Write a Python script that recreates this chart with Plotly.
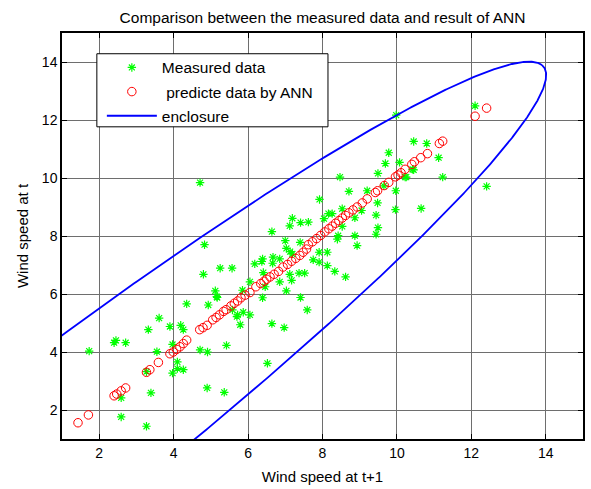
import numpy as np
import plotly.graph_objects as go

# Measured wind speed pairs: (speed at t+1, speed at t)
measured_x = [1.73, 2.40, 2.45, 2.71, 2.59, 2.59, 3.27, 3.27, 3.39, 3.32, 3.55, 3.61, 3.90, 3.97,
              3.97, 4.10, 4.10, 4.19, 4.26, 4.26, 4.35, 4.71, 4.91, 4.93, 4.90, 5.36, 5.42, 5.17,
              4.71, 4.83, 4.80, 5.12, 5.16, 5.25, 5.57, 5.72, 5.87, 5.85, 6.05, 5.79, 6.64, 6.97,
              7.59, 6.05, 6.18, 6.37, 6.39, 6.41, 6.46, 6.66, 6.67, 6.85, 6.85, 7.03, 7.12, 7.17,
              7.37, 7.52, 7.41, 7.03, 7.13, 7.00, 7.40, 6.64, 7.12, 7.19, 7.41, 7.62, 5.58, 5.70,
              6.39, 6.52, 8.33, 8.62, 7.75, 7.91, 8.13, 8.04, 7.92, 8.16, 8.26, 8.47, 8.53, 8.53,
              8.42, 8.40, 8.87, 8.87, 8.93, 8.71, 9.05, 9.20, 9.44, 9.44, 9.49, 9.48, 9.49, 9.69,
              9.78, 9.96, 9.97, 10.07, 10.22, 10.45, 10.45, 10.65, 10.80, 7.91, 8.13, 7.19, 12.10,
              9.98, 11.12, 11.23, 12.41, 9.65, 10.42, 10.25]
measured_y = [4.03, 4.32, 4.40, 4.32, 2.42, 1.76, 1.44, 3.32, 2.59, 4.77, 4.01, 5.17, 4.88, 4.26,
              3.27, 3.43, 3.66, 4.92, 4.77, 3.39, 5.66, 4.07, 4.00, 5.62, 2.76, 2.61, 4.23, 5.88,
              9.84, 7.70, 6.68, 6.11, 5.91, 6.89, 6.89, 5.28, 5.37, 6.13, 5.28, 4.94, 4.98, 4.84,
              5.45, 6.42, 7.04, 7.12, 7.21, 6.74, 6.25, 7.06, 7.27, 7.21, 6.42, 6.11, 6.68, 6.47,
              6.72, 6.72, 5.88, 7.57, 7.46, 7.84, 7.78, 8.15, 8.35, 8.61, 8.46, 8.48, 5.45, 5.22,
              5.87, 3.61, 6.78, 6.59, 7.18, 7.10, 6.98, 8.60, 9.26, 8.77, 8.77, 10.03, 8.94, 8.33,
              8.01, 7.89, 8.63, 8.01, 7.67, 9.54, 8.88, 9.56, 8.72, 8.06, 8.29, 9.14, 10.16, 10.50,
              10.87, 8.91, 9.56, 10.54, 10.03, 10.28, 11.26, 8.95, 11.19, 7.44, 7.44, 7.38, 12.49,
              12.17, 10.70, 10.03, 9.71, 9.73, 10.30, 10.03]

# ANN predictions for the same samples
predicted_x = [1.43, 1.71, 2.40, 2.47, 2.59, 2.71, 3.27, 3.36, 3.59, 3.90, 3.99, 4.08, 4.17, 4.26,
               4.35, 4.70, 4.79, 4.90, 5.05, 5.14, 5.23, 5.34, 5.41, 5.54, 5.63, 5.72, 5.81, 5.92,
               6.05, 6.21, 6.34, 6.43, 6.50, 6.59, 6.70, 6.82, 6.94, 7.06, 7.17, 7.28, 7.39, 7.48,
               7.57, 7.62, 7.73, 7.84, 7.95, 8.06, 8.17, 8.26, 8.35, 8.44, 8.53, 8.62, 8.71, 8.82,
               8.93, 9.07, 9.20, 9.42, 9.48, 9.66, 9.78, 9.96, 10.03, 10.11, 10.22, 10.40, 10.47,
               10.64, 10.82, 11.14, 11.23, 12.10, 12.41]
predicted_y = [1.56, 1.83, 2.49, 2.55, 2.66, 2.76, 3.30, 3.39, 3.64, 3.94, 4.00, 4.09, 4.18, 4.29,
               4.41, 4.77, 4.84, 4.92, 5.11, 5.19, 5.28, 5.40, 5.46, 5.59, 5.68, 5.76, 5.87, 5.96,
               6.05, 6.25, 6.36, 6.44, 6.51, 6.59, 6.68, 6.78, 6.93, 7.02, 7.13, 7.23, 7.33, 7.44,
               7.55, 7.70, 7.80, 7.91, 8.02, 8.14, 8.25, 8.34, 8.44, 8.53, 8.62, 8.71, 8.80, 8.90,
               9.00, 9.14, 9.28, 9.50, 9.56, 9.74, 9.85, 10.04, 10.10, 10.18, 10.30, 10.47, 10.56,
               10.70, 10.84, 11.19, 11.27, 12.13, 12.41]

# Enclosure: tilted ellipse around the data cloud
ellipse_center = (-0.60, -0.60)
ellipse_semi_major = 20.5
ellipse_semi_minor = 2.6
ellipse_tilt_deg = 45.0

tick_values = [2, 4, 6, 8, 10, 12, 14]

theta = np.deg2rad(ellipse_tilt_deg)
t = np.linspace(0, 2 * np.pi, 1441)
ex = (ellipse_center[0] + ellipse_semi_major * np.cos(t) * np.cos(theta)
      - ellipse_semi_minor * np.sin(t) * np.sin(theta))
ey = (ellipse_center[1] + ellipse_semi_major * np.cos(t) * np.sin(theta)
      + ellipse_semi_minor * np.sin(t) * np.cos(theta))

FONT = "Liberation Sans, Arial, Helvetica, sans-serif"

fig = go.Figure()
fig.add_trace(go.Scatter(
    x=measured_x, y=measured_y, mode="markers", name="Measured data",
    legendgroup="a",
    marker=dict(symbol="asterisk-open", size=7, color="#00ff00",
                line=dict(color="#00ff00", width=1.2)),
))
fig.add_trace(go.Scatter(
    x=predicted_x, y=predicted_y, mode="markers", name="\u00a0predicte data by ANN",
    legendgroup="b",
    marker=dict(symbol="circle-open", size=8.5, color="#ff0000",
                line=dict(color="#ff0000", width=1)),
))
fig.add_trace(go.Scatter(
    x=ex, y=ey, mode="lines", name="enclosure", legendgroup="c",
    line=dict(color="#0000ff", width=1.8),
))

axis_common = dict(
    range=[1, 15], tickvals=tick_values, ticks="inside", ticklen=5,
    tickcolor="black", tickwidth=1, showline=True, linecolor="black",
    linewidth=1.5, mirror="allticks", showgrid=True, gridcolor="#6e6e6e",
    gridwidth=1, zeroline=False, tickfont=dict(family=FONT, size=14, color="black"),
)

fig.update_xaxes(**axis_common,
                 title=dict(text="Wind speed at t+1",
                            font=dict(family=FONT, size=15, color="black"),
                            standoff=12))
fig.update_yaxes(**axis_common,
                 title=dict(text="Wind speed at t",
                            font=dict(family=FONT, size=15, color="black"),
                            standoff=10))

# Legend frame
fig.add_shape(type="rect", xref="paper", yref="paper",
              x0=0.0669, x1=0.5105, y0=0.7689, y1=0.9489,
              fillcolor="white", line=dict(color="black", width=1), layer="above")

fig.update_layout(
    width=591, height=489,
    margin=dict(l=62, r=6, t=33, b=45),
    paper_bgcolor="white", plot_bgcolor="white",
    title=dict(text="Comparison between the measured data and result of ANN",
               x=0.5, xref="paper", y=1 - 18 / 489, yref="container",
               xanchor="center", yanchor="middle",
               font=dict(family=FONT, size=15.5, color="black")),
    legend=dict(x=0.0765, y=0.956, xanchor="left", yanchor="top",
                bgcolor="rgba(0,0,0,0)", borderwidth=0, itemwidth=50,
                tracegroupgap=1, traceorder="grouped",
                font=dict(family=FONT, size=15.5, color="black")),
    showlegend=True,
)

fig.write_html("out.html")
